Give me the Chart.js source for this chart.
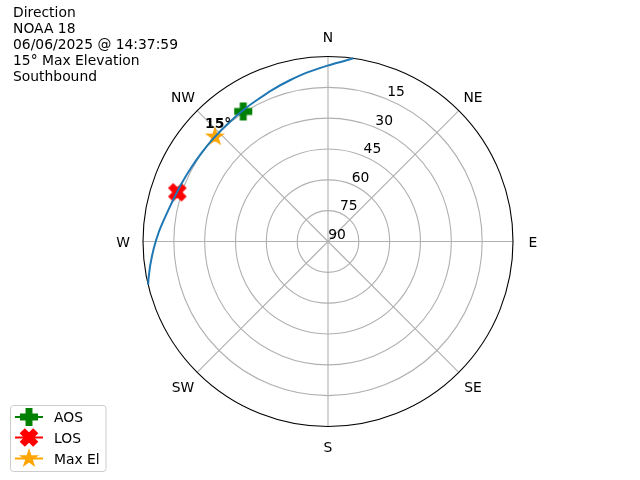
<!DOCTYPE html>
<html>
<head>
<meta charset="utf-8">
<script src="https://cdn.jsdelivr.net/npm/chart.js@4/dist/chart.umd.min.js"></script>
<style>
html,body{margin:0;padding:0;background:#fff;}
canvas{display:block;}
</style>
</head>
<body>
<canvas id="c" width="640" height="480"></canvas>
<script>
// ---- data ----
const titleLines = ["Direction", "NOAA 18", "06/06/2025 @ 14:37:59", "15\u00b0 Max Elevation", "Southbound"];
const compassLabels = ["N", "NE", "E", "SE", "S", "SW", "W", "NW"];
const compassAngles = [0, 45, 90, 135, 180, 225, 270, 315];
const ringElevations = [90, 75, 60, 45, 30, 15];
const ringLabels = ["90", "75", "60", "45", "30", "15"];
const pathAz = [7.9, 0.1, 352.8, 346.7, 340.2, 333.2, 328.1, 320.3, 312.0, 304.9, 298.0, 291.7, 285.0, 278.6, 273.3, 267.8, 262.5, 258.4, 256.5];
const pathEl = [0.0, 4.3, 7.2, 9.4, 11.3, 13.0, 13.8, 14.7, 15.0, 14.9, 14.3, 13.4, 12.0, 9.9, 7.6, 5.2, 2.8, 0.9, 0.0];
const aosAz = [326.9], aosEl = [14.5];
const losAz = [288.1], losEl = [12.9];
const maxAz = [312.8], maxEl = [15.0];
const maxLabel = "15\u00b0";
const legendLabels = ["AOS", "LOS", "Max El"];

// ---- helpers ----
function toXY(az, el) {
  const r = 90 - el, a = az * Math.PI / 180;
  return { x: r * Math.sin(a), y: r * Math.cos(a) };
}
function pts(azs, els) { return azs.map((a, i) => toXY(a, els[i])); }

const FONT = "'DejaVu Sans', 'Liberation Sans', sans-serif";
const FS = '13.89px ';
const TY = 1.5; // vertical text nudge
const MS = 16.7; // marker size px

function polyPath(ctx, verts, cx, cy, scale) {
  ctx.beginPath();
  verts.forEach((v, i) => {
    const X = cx + v[0] * scale, Y = cy - v[1] * scale;
    if (i === 0) ctx.moveTo(X, Y); else ctx.lineTo(X, Y);
  });
  ctx.closePath();
}
const plusVerts = [[-1,-3],[1,-3],[1,-1],[3,-1],[3,1],[1,1],[1,3],[-1,3],[-1,1],[-3,1],[-3,-1],[-1,-1]].map(v => [v[0]/6, v[1]/6]);
const xVerts = [[-1,-2],[0,-1],[1,-2],[2,-1],[1,0],[2,1],[1,2],[0,1],[-1,2],[-2,1],[-1,0],[-2,-1]].map(v => [v[0]/4, v[1]/4]);
function starVerts() {
  const v = [];
  for (let i = 0; i < 10; i++) {
    const r = (i % 2 === 0) ? 0.5 : 0.5 * 0.381966;
    const a = Math.PI / 2 + i * Math.PI / 5;
    v.push([r * Math.cos(a), r * Math.sin(a)]);
  }
  return v;
}
function drawMarker(ctx, kind, color, cx, cy) {
  const verts = kind === 'plus' ? plusVerts : kind === 'x' ? xVerts : starVerts();
  ctx.save();
  ctx.fillStyle = color; ctx.strokeStyle = color; ctx.lineWidth = 1.39; ctx.lineJoin = 'miter';
  polyPath(ctx, verts, cx, cy, MS);
  ctx.fill(); ctx.stroke();
  ctx.restore();
}
function markerImage(kind, color) {
  const c = document.createElement('canvas');
  c.width = 24; c.height = 24;
  drawMarker(c.getContext('2d'), kind, color, 12, 12);
  return c;
}

const GREEN = '#008000', RED = '#ff0000', ORANGE = '#ffa500', BLUE = '#1f77b4';
const imgPlus = markerImage('plus', GREEN);
const imgX = markerImage('x', RED);
const imgStar = markerImage('star', ORANGE);

const polarPlugin = {
  id: 'polarGrid',
  beforeDatasetsDraw(chart) {
    const ctx = chart.ctx, xs = chart.scales.x, ys = chart.scales.y;
    const cx = xs.getPixelForValue(0), cy = ys.getPixelForValue(0);
    const k = xs.getPixelForValue(1) - cx;
    ctx.save();
    ctx.strokeStyle = '#b0b0b0'; ctx.lineWidth = 1.1;
    ringElevations.forEach(el => {
      const r = (90 - el) * k;
      if (r <= 0) return;
      ctx.beginPath(); ctx.arc(cx, cy, r, 0, Math.PI * 2); ctx.stroke();
    });
    compassAngles.forEach(a => {
      const p = toXY(a, 0);
      ctx.beginPath(); ctx.moveTo(cx, cy);
      ctx.lineTo(xs.getPixelForValue(p.x), ys.getPixelForValue(p.y)); ctx.stroke();
    });
    ctx.strokeStyle = '#000'; ctx.lineWidth = 1.1;
    ctx.beginPath(); ctx.arc(cx, cy, 90 * k, 0, Math.PI * 2); ctx.stroke();
    // compass labels
    ctx.fillStyle = '#000'; ctx.font = FS + FONT;
    ctx.textAlign = 'center'; ctx.textBaseline = 'middle';
    compassLabels.forEach((lab, i) => {
      const a = compassAngles[i] * Math.PI / 180, rr = 90 * k + 20;
      ctx.fillText(lab, cx + rr * Math.sin(a), cy - rr * Math.cos(a) + TY);
    });
    // radial labels
    ringElevations.forEach((el, i) => {
      const p = toXY(22.5, el);
      ctx.fillText(ringLabels[i], xs.getPixelForValue(p.x) + 9, ys.getPixelForValue(p.y) - 8 + TY);
    });
    ctx.restore();
  },
  afterDatasetsDraw(chart) {
    const ctx = chart.ctx, xs = chart.scales.x, ys = chart.scales.y;
    ctx.save();
    // max elevation label
    const m = toXY(maxAz[0], maxEl[0]);
    ctx.fillStyle = '#000'; ctx.font = 'bold ' + FS + FONT;
    ctx.textAlign = 'center'; ctx.textBaseline = 'middle';
    ctx.fillText(maxLabel, xs.getPixelForValue(m.x) + 3.3, ys.getPixelForValue(m.y) - 14 + TY);
    // title text
    ctx.font = FS + FONT; ctx.textAlign = 'left';
    titleLines.forEach((t, i) => ctx.fillText(t, 13, 12 + i * 16 + TY));
    // legend
    const bx = 10.5, by = 405.5, bw = 95.5, bh = 66;
    ctx.beginPath();
    if (ctx.roundRect) ctx.roundRect(bx, by, bw, bh, 3); else ctx.rect(bx, by, bw, bh);
    ctx.fillStyle = 'rgba(255,255,255,0.8)'; ctx.fill();
    ctx.strokeStyle = '#cccccc'; ctx.lineWidth = 1; ctx.stroke();
    const cols = [GREEN, RED, ORANGE], kinds = ['plus', 'x', 'star'], ly = [417, 437.5, 458.5];
    legendLabels.forEach((lab, i) => {
      ctx.strokeStyle = cols[i]; ctx.lineWidth = 2;
      ctx.beginPath(); ctx.moveTo(15, ly[i]); ctx.lineTo(43, ly[i]); ctx.stroke();
      drawMarker(ctx, kinds[i], cols[i], 29, ly[i]);
      ctx.fillStyle = '#000'; ctx.font = FS + FONT;
      ctx.textAlign = 'left'; ctx.textBaseline = 'middle';
      ctx.fillText(lab, 54, ly[i] + TY);
    });
    ctx.restore();
  }
};

new Chart(document.getElementById('c'), {
  type: 'scatter',
  data: {
    datasets: [
      { label: 'Path', data: pts(pathAz, pathEl), showLine: true, borderColor: BLUE, borderWidth: 2, pointRadius: 0, tension: 0.15, fill: false },
      { label: legendLabels[0], data: pts(aosAz, aosEl), pointStyle: imgPlus, showLine: false },
      { label: legendLabels[1], data: pts(losAz, losEl), pointStyle: imgX, showLine: false },
      { label: legendLabels[2], data: pts(maxAz, maxEl), pointStyle: imgStar, showLine: false }
    ]
  },
  options: {
    responsive: false,
    animation: false,
    layout: { padding: { left: 143, right: 127, top: 56.5, bottom: 53.5 } },
    scales: {
      x: { type: 'linear', min: -90, max: 90, display: false },
      y: { type: 'linear', min: -90, max: 90, display: false }
    },
    plugins: { legend: { display: false }, tooltip: { enabled: false } },
    clip: false
  },
  plugins: [polarPlugin]
});
</script>
</body>
</html>
